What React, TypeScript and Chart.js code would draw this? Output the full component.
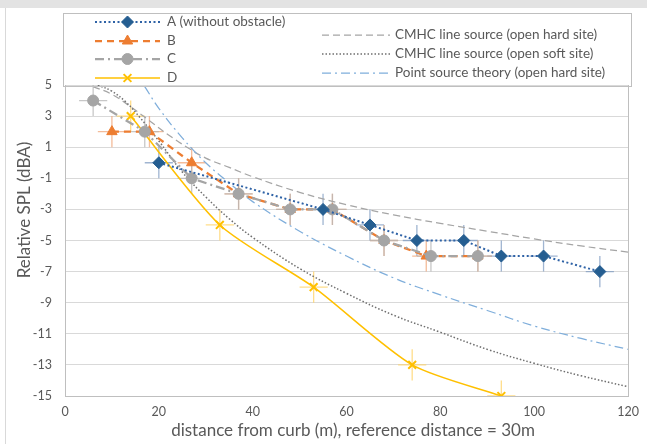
import { useEffect, useRef } from "react";
import { Chart, registerables } from "chart.js";
import { drawPoint } from "chart.js/helpers";

Chart.register(...registerables);

// ---- measured data (distance from curb in m, relative SPL in dBA) ----
const X_A = [20, 55, 65, 75, 85, 93, 102, 114];
const Y_A = [0, -3, -4, -5, -5, -6, -6, -7];
const X_B = [10, 18, 27, 37, 48, 57, 68, 77, 88];
const Y_B = [2, 2, 0, -2, -3, -3, -5, -6, -6];
const X_C = [6, 17, 27, 37, 48, 57, 68, 78, 88];
const Y_C = [4, 2, -1, -2, -3, -3, -5, -6, -6];
const X_D = [14, 33, 53, 74, 93];
const Y_D = [3, -4, -8, -13, -15];
const X_ERR = 3;
const Y_ERR = 1;

// ---- theory curves ----
const X_HARD = [6, 10, 14, 18, 22, 26, 30, 35, 40, 50, 60, 70, 80, 90, 100, 110, 120];
const Y_HARD = [4.9, 4.4, 3.6, 2.7, 1.8, 1.0, 0.3, -0.3, -0.9, -1.9, -2.7, -3.35, -3.9, -4.4, -4.9, -5.35, -5.75];
const X_SOFT = [7, 10, 13, 16, 20, 25, 30, 35, 40, 50, 60, 70, 80, 90, 100, 110, 120];
const Y_SOFT = [5.0, 4.6, 3.9, 2.9, 1.4, -0.6, -2.2, -3.6, -4.8, -6.8, -8.4, -9.8, -10.9, -12.0, -12.9, -13.7, -14.4];
const X_POINT = [17, 20, 25, 30, 35, 40, 50, 60, 70, 80, 90, 100, 110, 120];
const Y_POINT = [4.9, 3.5, 1.6, 0, -1.3, -2.5, -4.4, -6.0, -7.4, -8.5, -9.5, -10.5, -11.3, -12.0];

const X_TICKS = [0, 20, 40, 60, 80, 100, 120];
const Y_TICKS = [5, 3, 1, -1, -3, -5, -7, -9, -11, -13, -15];

const LABELS = [
  "A (without obstacle)",
  "B",
  "C",
  "D",
  "CMHC line source (open hard site)",
  "CMHC line source (open soft site)",
  "Point source theory (open hard site)",
];

const X_TITLE = "distance from curb (m), reference distance = 30m";
const Y_TITLE = "Relative SPL (dBA)";

const FONT = "Lato, 'Open Sans', sans-serif";
const TEXT = "#595959";

const pts = (xs: number[], ys: number[]) => xs.map((x, i) => ({ x, y: ys[i] }));

const errorBarPlugin = {
  id: "errorBars",
  beforeDatasetsDraw(chart: any) {
    const { ctx, chartArea } = chart;
    const xs = chart.scales.x;
    const ys = chart.scales.y;
    ctx.save();
    ctx.beginPath();
    ctx.rect(chartArea.left, chartArea.top, chartArea.right - chartArea.left, chartArea.bottom - chartArea.top);
    ctx.clip();
    chart.data.datasets.forEach((ds: any) => {
      if (!ds.errColor) return;
      ctx.strokeStyle = ds.errColor;
      ctx.lineWidth = 1.3;
      ctx.setLineDash([]);
      ds.data.forEach((p: any) => {
        const px = xs.getPixelForValue(p.x);
        const py = ys.getPixelForValue(p.y);
        ctx.beginPath();
        ctx.moveTo(xs.getPixelForValue(p.x - X_ERR), py);
        ctx.lineTo(xs.getPixelForValue(p.x + X_ERR), py);
        ctx.moveTo(px, ys.getPixelForValue(p.y - Y_ERR));
        ctx.lineTo(px, ys.getPixelForValue(p.y + Y_ERR));
        ctx.stroke();
      });
    });
    ctx.restore();
  },
};

const decorPlugin = {
  id: "decor",
  beforeDraw(chart: any) {
    const ctx = chart.ctx;
    ctx.save();
    ctx.fillStyle = "#ffffff";
    ctx.fillRect(0, 0, chart.width, chart.height);
    ctx.fillStyle = "#e3e3e3";
    ctx.fillRect(0, 0, chart.width, 8);
    ctx.strokeStyle = "#d9d9d9";
    ctx.lineWidth = 1;
    ctx.beginPath();
    ctx.moveTo(5.5, 8);
    ctx.lineTo(5.5, chart.height);
    ctx.stroke();
    ctx.restore();
  },
  afterDraw(chart: any) {
    const { ctx, chartArea } = chart;
    ctx.save();
    // right border of plot area
    ctx.strokeStyle = "#bfbfbf";
    ctx.lineWidth = 1;
    ctx.setLineDash([]);
    ctx.beginPath();
    ctx.moveTo(Math.round(chartArea.right) + 0.5, chartArea.top);
    ctx.lineTo(Math.round(chartArea.right) + 0.5, chartArea.bottom);
    ctx.stroke();

    // axis titles
    ctx.fillStyle = TEXT;
    ctx.font = `17px ${FONT}`;
    ctx.textAlign = "center";
    ctx.textBaseline = "middle";
    ctx.fillText(X_TITLE, 353, 431);
    ctx.save();
    ctx.translate(25, 210);
    ctx.rotate(-Math.PI / 2);
    ctx.fillText(Y_TITLE, 0, 0);
    ctx.restore();

    // legend box
    ctx.strokeStyle = "#bfbfbf";
    ctx.strokeRect(63.5, 13.5, 568, 73);

    const rows: { x0: number; x1: number; tx: number; y: number }[] = [
      { x0: 95, x1: 160, tx: 167, y: 22 },
      { x0: 95, x1: 160, tx: 167, y: 41 },
      { x0: 95, x1: 160, tx: 167, y: 59 },
      { x0: 95, x1: 160, tx: 167, y: 78 },
      { x0: 322, x1: 390, tx: 395, y: 35 },
      { x0: 322, x1: 390, tx: 395, y: 54 },
      { x0: 322, x1: 390, tx: 395, y: 73 },
    ];
    ctx.font = `13.5px ${FONT}`;
    ctx.textAlign = "left";
    chart.data.datasets.forEach((ds: any, i: number) => {
      const r = rows[i];
      ctx.save();
      ctx.strokeStyle = ds.borderColor;
      ctx.lineWidth = ds.borderWidth;
      ctx.setLineDash(ds.borderDash || []);
      ctx.beginPath();
      ctx.moveTo(r.x0, r.y);
      ctx.lineTo(r.x1, r.y);
      ctx.stroke();
      ctx.setLineDash([]);
      if (ds.pointRadius > 0) {
        ctx.fillStyle = ds.pointBackgroundColor;
        ctx.strokeStyle = ds.pointBorderColor;
        ctx.lineWidth = ds.pointBorderWidth;
        drawPoint(
          ctx,
          { pointStyle: ds.pointStyle, radius: ds.pointRadius, rotation: 0, borderWidth: ds.pointBorderWidth },
          (r.x0 + r.x1) / 2,
          r.y
        );
      }
      ctx.restore();
      ctx.fillStyle = TEXT;
      ctx.fillText(LABELS[i], r.tx, r.y);
    });
    ctx.restore();
  },
};

export default function App() {
  const ref = useRef<HTMLCanvasElement | null>(null);

  useEffect(() => {
    if (!ref.current) return;
    const chart = new Chart(ref.current, {
      type: "scatter",
      data: {
        datasets: [
          {
            label: LABELS[0],
            data: pts(X_A, Y_A),
            showLine: true,
            borderColor: "#2E62A6",
            borderWidth: 2,
            borderDash: [2, 2.5],
            pointStyle: "rectRot",
            pointRadius: 6,
            pointBackgroundColor: "#255E91",
            pointBorderColor: "#255E91",
            pointBorderWidth: 1,
            errColor: "rgba(120,150,190,0.7)",
            order: 1,
          } as any,
          {
            label: LABELS[1],
            data: pts(X_B, Y_B),
            showLine: true,
            borderColor: "#ED7D31",
            borderWidth: 2.25,
            borderDash: [7, 5],
            pointStyle: "triangle",
            pointRadius: 6,
            pointBackgroundColor: "#ED7D31",
            pointBorderColor: "#ED7D31",
            pointBorderWidth: 1,
            errColor: "rgba(240,165,120,0.75)",
            order: 3,
          } as any,
          {
            label: LABELS[2],
            data: pts(X_C, Y_C),
            showLine: true,
            borderColor: "#A5A5A5",
            borderWidth: 2.25,
            borderDash: [9, 4, 2, 4],
            pointStyle: "circle",
            pointRadius: 5.5,
            pointBackgroundColor: "#A5A5A5",
            pointBorderColor: "#A5A5A5",
            pointBorderWidth: 1,
            errColor: "rgba(180,180,180,0.75)",
            order: 2,
          } as any,
          {
            label: LABELS[3],
            data: pts(X_D, Y_D),
            showLine: true,
            tension: 0.25,
            borderColor: "#FFC000",
            borderWidth: 1.5,
            borderDash: [],
            pointStyle: "crossRot",
            pointRadius: 5.5,
            pointBackgroundColor: "#FFC000",
            pointBorderColor: "#FFC000",
            pointBorderWidth: 2,
            errColor: "rgba(255,210,100,0.75)",
            order: 4,
          } as any,
          {
            label: LABELS[4],
            data: pts(X_HARD, Y_HARD),
            showLine: true,
            tension: 0.4,
            borderColor: "#A5A5A5",
            borderWidth: 1.25,
            borderDash: [7, 4],
            pointRadius: 0,
            order: 7,
          } as any,
          {
            label: LABELS[5],
            data: pts(X_SOFT, Y_SOFT),
            showLine: true,
            tension: 0.4,
            borderColor: "#6F6F6F",
            borderWidth: 1.5,
            borderDash: [1.5, 2],
            pointRadius: 0,
            order: 6,
          } as any,
          {
            label: LABELS[6],
            data: pts(X_POINT, Y_POINT),
            showLine: true,
            tension: 0.4,
            borderColor: "#7FAEDB",
            borderWidth: 1.25,
            borderDash: [9, 4, 2, 4],
            pointRadius: 0,
            order: 5,
          } as any,
        ],
      },
      options: {
        responsive: false,
        animation: false,
        devicePixelRatio: 1,
        layout: { padding: { top: 85, right: 19, left: 0, bottom: 0 } },
        plugins: { legend: { display: false }, tooltip: { enabled: false } },
        scales: {
          x: {
            type: "linear",
            min: 0,
            max: 120,
            afterBuildTicks: (s: any) => {
              s.ticks = X_TICKS.map((v) => ({ value: v }));
            },
            afterFit: (s: any) => {
              s.height = 48;
            },
            grid: { display: false, drawTicks: false },
            border: { display: true, color: "#bfbfbf", width: 1 },
            ticks: { color: TEXT, font: { family: FONT, size: 12.5 }, padding: 8, maxRotation: 0 },
          },
          y: {
            type: "linear",
            min: -15,
            max: 5,
            afterBuildTicks: (s: any) => {
              s.ticks = Y_TICKS.map((v) => ({ value: v }));
            },
            afterFit: (s: any) => {
              s.width = 65;
            },
            grid: { color: "#d9d9d9", lineWidth: 1, drawTicks: false },
            border: { display: true, color: "#bfbfbf", width: 1 },
            ticks: { color: TEXT, font: { family: FONT, size: 12.5 }, padding: 13 },
          },
        },
      },
      plugins: [decorPlugin, errorBarPlugin],
    });
    return () => chart.destroy();
  }, []);

  return (
    <div style={{ position: "fixed", left: 0, top: 0, width: 647, height: 444, background: "#fff" }}>
      <canvas ref={ref} width={647} height={444} style={{ display: "block", width: 647, height: 444 }} />
    </div>
  );
}
